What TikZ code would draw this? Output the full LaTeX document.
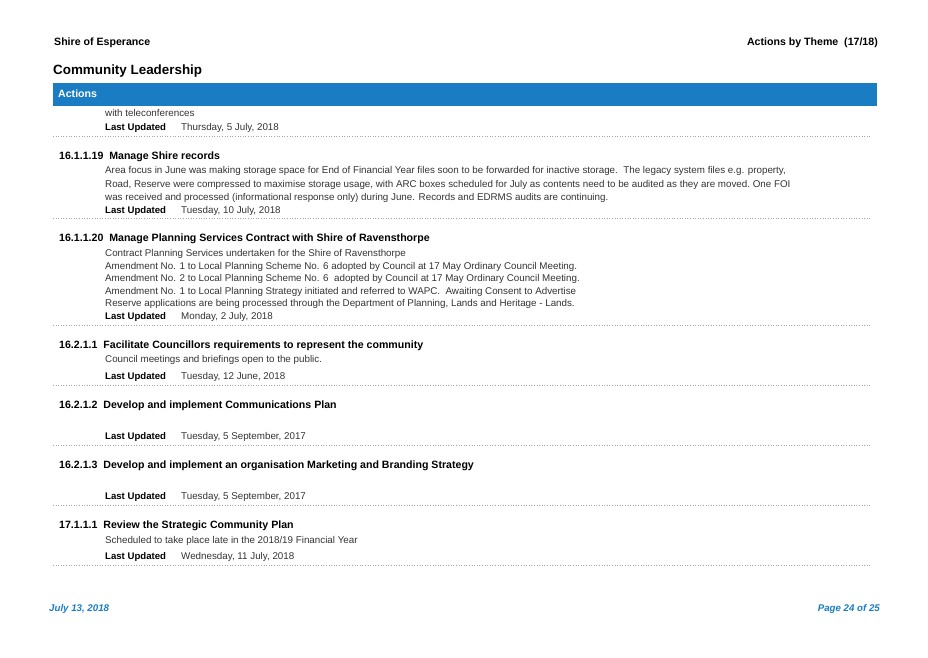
\documentclass[tikz,border=0pt]{standalone}
\usepackage{fontspec}
\setmainfont{Liberation Sans}
\definecolor{barblue}{HTML}{1A7DC4}
\definecolor{txt}{HTML}{333333}
\begin{document}
\begin{tikzpicture}[x=1pt,y=-1pt,
  body/.style={anchor=base west,yshift=-3.5pt,inner sep=0pt,font=\fontsize{9.8}{10}\selectfont,text=txt},
  head/.style={anchor=base west,yshift=-3.8pt,inner sep=0pt,font=\bfseries\fontsize{10.6}{11}\selectfont},
  lu/.style={anchor=base west,yshift=-3.5pt,inner sep=0pt,font=\bfseries\fontsize{9.6}{10}\selectfont},
  dots/.style={draw=gray!70,dotted,line width=0.6pt},
  foot/.style={inner sep=0pt,font=\bfseries\itshape\fontsize{9.7}{10}\selectfont,text=barblue}]
\useasboundingbox (0,0) rectangle (928,657);
\node[head] (t1) at (54,42) {Shire of Esperance};
\node[head,anchor=base east] (t2) at (878,42) {Actions by Theme\ \ (17/18)};
\node[anchor=base west,yshift=-4.8pt,inner sep=0pt,font=\bfseries\fontsize{13.4}{14}\selectfont] (t3) at (53,70) {Community Leadership};
\fill[barblue] (53,83) rectangle (877,106);
\node[head,text=white] (bar) at (58,94) {Actions};
% block 0
\node[body] at (105,113) {with teleconferences};
\node[lu] at (105,127) {Last Updated}; \node[body] at (181,127) {Thursday, 5 July, 2018};
\draw[dots] (53,136) -- (870,136);
% block 1
\node[head] at (59,156) {16.1.1.19\ \ Manage Shire records};
\node[body] at (105,170) {Area focus in June was making storage space for End of Financial Year files soon to be forwarded for inactive storage.\ \ The legacy system files e.g. property,};
\node[body] at (105,184) {Road, Reserve were compressed to maximise storage usage, with ARC boxes scheduled for July as contents need to be audited as they are moved.\ One FOI};
\node[body] at (105,197) {was received and processed (informational response only) during June. Records and EDRMS audits are continuing.};
\node[lu] at (105,210) {Last Updated}; \node[body] at (181,210) {Tuesday, 10 July, 2018};
\draw[dots] (53,218) -- (870,218);
% block 2
\node[head] at (59,238) {16.1.1.20\ \ Manage Planning Services Contract with Shire of Ravensthorpe};
\node[body] at (105,253) {Contract Planning Services undertaken for the Shire of Ravensthorpe};
\node[body] at (105,266) {Amendment No. 1 to Local Planning Scheme No. 6 adopted by Council at 17 May Ordinary Council Meeting.};
\node[body] at (105,278) {Amendment No. 2 to Local Planning Scheme No. 6\ \ adopted by Council at 17 May Ordinary Council Meeting.};
\node[body] at (105,291) {Amendment No. 1 to Local Planning Strategy initiated and referred to WAPC.\ \ Awaiting Consent to Advertise};
\node[body] at (105,303) {Reserve applications are being processed through the Department of Planning, Lands and Heritage - Lands.};
\node[lu] at (105,316) {Last Updated}; \node[body] at (181,316) {Monday, 2 July, 2018};
\draw[dots] (53,325) -- (870,325);
% block 3
\node[head] at (59,345) {16.2.1.1\ \ Facilitate Councillors requirements to represent the community};
\node[body] at (105,359) {Council meetings and briefings open to the public.};
\node[lu] at (105,376) {Last Updated}; \node[body] at (181,376) {Tuesday, 12 June, 2018};
\draw[dots] (53,385) -- (870,385);
% block 4
\node[head] at (59,405) {16.2.1.2\ \ Develop and implement Communications Plan};
\node[lu] at (105,436) {Last Updated}; \node[body] at (181,436) {Tuesday, 5 September, 2017};
\draw[dots] (53,445) -- (870,445);
% block 5
\node[head] at (59,465) {16.2.1.3\ \ Develop and implement an organisation Marketing and Branding Strategy};
\node[lu] at (105,496) {Last Updated}; \node[body] at (181,496) {Tuesday, 5 September, 2017};
\draw[dots] (53,505) -- (870,505);
% block 6
\node[head] at (59,525) {17.1.1.1\ \ Review the Strategic Community Plan};
\node[body] at (105,540) {Scheduled to take place late in the 2018/19 Financial Year};
\node[lu] at (105,556) {Last Updated}; \node[body] at (181,556) {Wednesday, 11 July, 2018};
\draw[dots] (53,565) -- (870,565);
% footer
\node[foot,anchor=west] (f1) at (49,609) {July 13, 2018};
\node[foot,anchor=east] (f2) at (880,609) {Page 24 of 25};
\end{tikzpicture}
\end{document}
